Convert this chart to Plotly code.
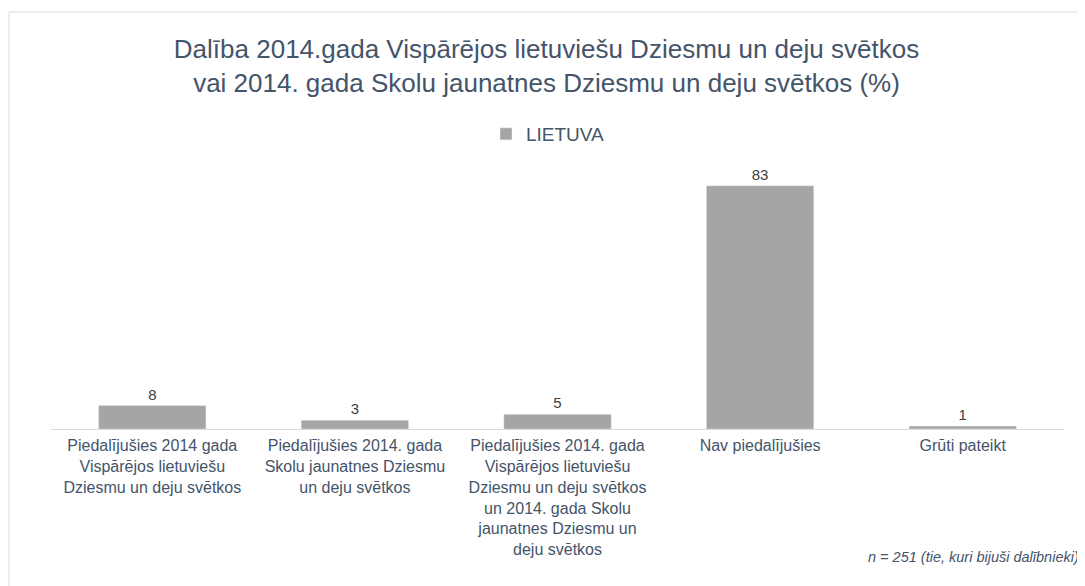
import plotly.graph_objects as go

categories = [
    "Piedalījušies 2014 gada<br>Vispārējos lietuviešu<br>Dziesmu un deju svētkos",
    "Piedalījušies 2014. gada<br>Skolu jaunatnes Dziesmu<br>un deju svētkos",
    "Piedalījušies 2014. gada<br>Vispārējos lietuviešu<br>Dziesmu un deju svētkos<br>un 2014. gada Skolu<br>jaunatnes Dziesmu un<br>deju svētkos",
    "Nav piedalījušies",
    "Grūti pateikt",
]
values = [8, 3, 5, 83, 1]
series_name = "LIETUVA"

text_color = "#44546A"
font_main = "Liberation Sans, Arial, sans-serif"

# figure geometry (page body has an 8px margin)
W, H = 1077, 578
L, R, T, B = 43, 21, 142, 157
PW = W - L - R
PH = H - T - B
BASE = H - B


def px(xf):
    return (xf - L) / PW


def py(yf):
    return (BASE - yf) / PH


fig = go.Figure()
fig.add_trace(go.Bar(
    x=categories, y=values, name=series_name,
    marker=dict(color="#A5A5A5"),
    text=[str(v) for v in values], textposition="outside",
    textfont=dict(size=15, color="#404040", family=font_main),
    cliponaxis=False,
))

fig.update_layout(
    width=W, height=H,
    paper_bgcolor="white", plot_bgcolor="white",
    margin=dict(l=L, r=R, t=T, b=B),
    bargap=0.47,
    font=dict(family=font_main, color=text_color, size=16),
    title=dict(
        text="Dalība 2014.gada Vispārējos lietuviešu Dziesmu un deju svētkos<br>vai 2014. gada Skolu jaunatnes Dziesmu un deju svētkos (%)",
        x=0.5, xanchor="center", y=1 - 50 / H, yanchor="middle", yref="container",
        font=dict(size=26, color=text_color, family=font_main),
    ),
    showlegend=True,
    legend=dict(orientation="h", x=px(478), xanchor="left", y=py(126), yanchor="middle",
                font=dict(size=19, color=text_color, family=font_main), itemwidth=30),
    xaxis=dict(showline=True, linecolor="#D9D9D9", linewidth=1,
               ticks="outside", ticklen=2, tickcolor="rgba(0,0,0,0)", showgrid=False,
               tickfont=dict(size=16, color=text_color, family=font_main)),
    yaxis=dict(visible=False, range=[0, PH / 2.93], showgrid=False),
    shapes=[
        dict(type="line", xref="paper", yref="paper", x0=px(1), x1=px(W + 10), y0=py(4), y1=py(4),
             line=dict(color="#D9D9D9", width=1)),
        dict(type="line", xref="paper", yref="paper", x0=px(1), x1=px(1), y0=py(H + 10), y1=py(4),
             line=dict(color="#D9D9D9", width=1)),
    ],
    annotations=[
        dict(text="<i>n = 251 (tie, kuri bijuši dalībnieki)</i>", xref="paper", yref="paper",
             x=px(1073), xanchor="right", y=py(549), yanchor="middle",
             showarrow=False, font=dict(size=14.5, color=text_color, family=font_main)),
    ],
)

fig.write_html("out.html")
